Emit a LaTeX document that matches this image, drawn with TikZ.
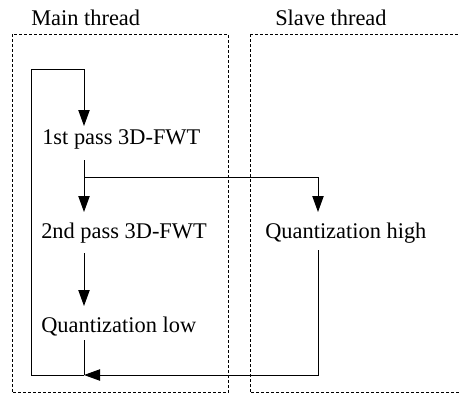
\documentclass[tikz,border=0pt]{standalone}
\usepackage{fontspec}
\setmainfont{Liberation Serif}
\usetikzlibrary{arrows.meta}
\tikzset{
  lbl/.style={anchor=west, inner sep=0pt, font=\fontsize{16.8}{20}\selectfont},
  threadbox/.style={draw, line width=0.75pt, dash pattern=on 2.25pt off 1.5pt},
  conn/.style={draw, line width=0.75pt},
  arr/.style={conn, -{Triangle[length=12pt, width=8.5pt]}},
}
\begin{document}
\begin{tikzpicture}[x=0.75pt, y=-0.75pt]
\useasboundingbox (0,0) rectangle (459,393);
\clip (0,0) rectangle (459,393);
% thread boxes
\draw[threadbox] (12,34) rectangle (228,392.9);
\draw[threadbox] (250,34) rectangle (475,392.9);
\node[lbl] (mainlbl) at (31,18) {Main thread};
\node[lbl] (slavelbl) at (275,18) {Slave thread};
% nodes
\node[lbl] (first) at (42,139) {1st pass 3D-FWT};
\node[lbl] (second) at (41,233) {2nd pass 3D-FWT};
\node[lbl] (qlow) at (41,327) {Quantization low};
\node[lbl] (qhigh) at (265,233) {Quantization high};
% coordinates
\coordinate (loopTL) at (31,69);
\coordinate (loopBL) at (31,375);
\coordinate (mtop) at (84,69);
\coordinate (mjoin) at (84,375);
\coordinate (in1) at (84,126);
\coordinate (out1) at (84,160);
\coordinate (split) at (84,177);
\coordinate (in2) at (84,212);
\coordinate (out2) at (84,253);
\coordinate (in3) at (84,306);
\coordinate (out3) at (84,340);
\coordinate (hcorner) at (318,177);
\coordinate (inH) at (318,212);
\coordinate (outH) at (318,250);
\coordinate (hbot) at (318,375);
% connectors
\draw[arr] (mjoin) -- (loopBL) -- (loopTL) -- (mtop) -- (in1);
\draw[arr] (out1) -- (in2);
\draw[arr] (split) -- (hcorner) -- (inH);
\draw[arr] (out2) -- (in3);
\draw[conn] (out3) -- (mjoin);
\draw[arr] (outH) -- (hbot) -- (mjoin);
\end{tikzpicture}
\end{document}
